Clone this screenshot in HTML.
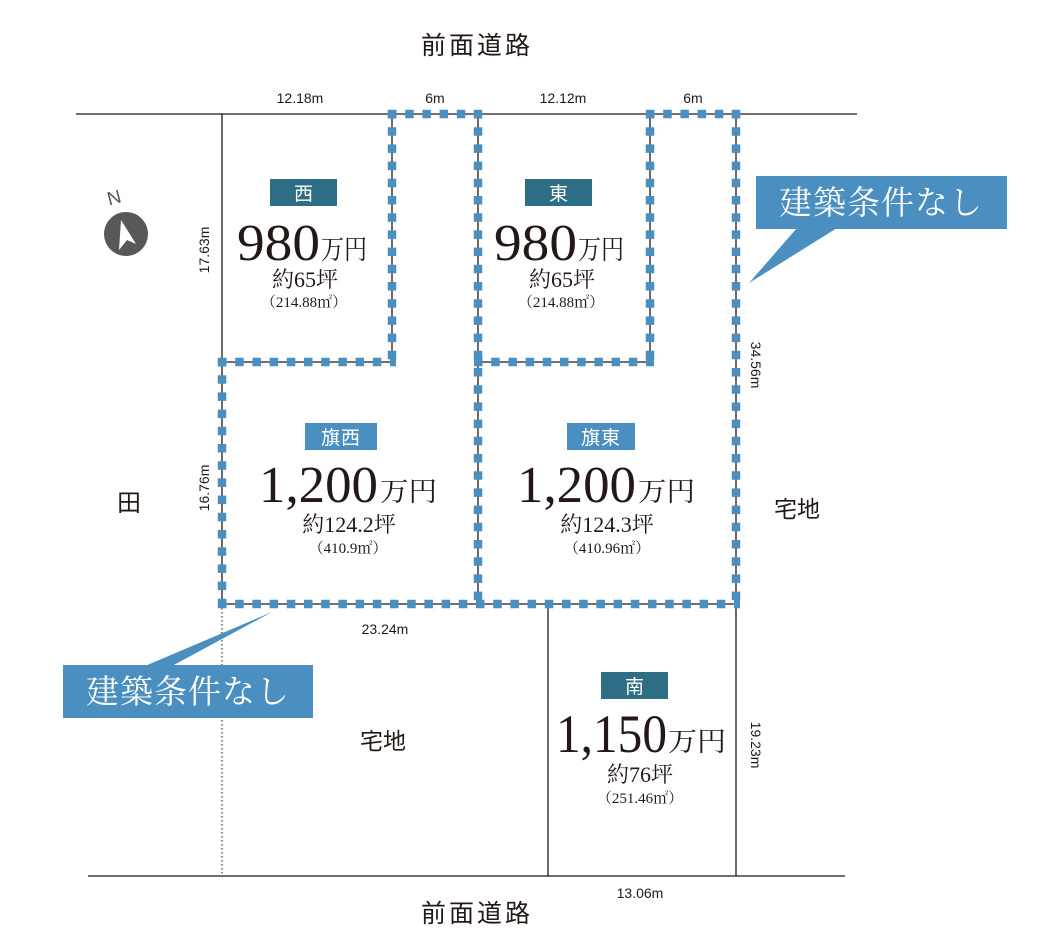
<!DOCTYPE html>
<html><head><meta charset="utf-8"><style>
html,body{margin:0;padding:0;background:#fff;}
svg{display:block}
.s{font-family:"Liberation Sans","Noto Sans CJK JP",sans-serif;fill:#231815}
.r{font-family:"Liberation Serif","Noto Serif CJK SC",serif;fill:#231815}
</style></head><body>
<svg width="1056" height="950" viewBox="0 0 1056 950" xmlns="http://www.w3.org/2000/svg">
<g stroke="#231815" stroke-width="1.3" fill="none">
<line x1="76" y1="114" x2="857" y2="114"/>
<line x1="88" y1="876" x2="845" y2="876"/>
<line x1="222" y1="114" x2="222" y2="604"/>
<line x1="392" y1="114" x2="392" y2="362"/>
<line x1="478" y1="114" x2="478" y2="604"/>
<line x1="650" y1="114" x2="650" y2="362"/>
<line x1="736" y1="114" x2="736" y2="876"/>
<line x1="548" y1="604" x2="548" y2="876"/>
<line x1="222" y1="362" x2="392" y2="362"/>
<line x1="478" y1="362" x2="650" y2="362"/>
<line x1="222" y1="604" x2="736" y2="604"/>
<line x1="222" y1="604" x2="222" y2="876" stroke-dasharray="1.5 2.5" stroke-width="1"/>
</g>
<g stroke="#4a8fc0" stroke-width="8.5" stroke-dasharray="8.5 8.7" fill="none">
<line x1="388" y1="114" x2="482" y2="114"/>
<line x1="646" y1="114" x2="740" y2="114"/>
<line x1="392" y1="110" x2="392" y2="366"/>
<line x1="478" y1="110" x2="478" y2="608"/>
<line x1="650" y1="110" x2="650" y2="366"/>
<line x1="736" y1="110" x2="736" y2="608"/>
<line x1="218" y1="362" x2="396" y2="362"/>
<line x1="474" y1="362" x2="654" y2="362"/>
<line x1="222" y1="358" x2="222" y2="608"/>
<line x1="218" y1="604" x2="740" y2="604"/>
</g>
<text class="s" x="477" y="54" font-size="25" text-anchor="middle" letter-spacing="3">前面道路</text>
<text class="s" x="477" y="922" font-size="25" text-anchor="middle" letter-spacing="3">前面道路</text>
<text class="s" x="129" y="511" font-size="24" text-anchor="middle">田</text>
<text class="s" x="797" y="517" font-size="23" text-anchor="middle">宅地</text>
<text class="s" x="383" y="749" font-size="23" text-anchor="middle">宅地</text>
<g class="s" font-size="14" text-anchor="middle">
<text x="300" y="103">12.18m</text>
<text x="435" y="103">6m</text>
<text x="563" y="103">12.12m</text>
<text x="693" y="103">6m</text>
<text x="385" y="634">23.24m</text>
<text x="640" y="898">13.06m</text>
<text transform="translate(209,250) rotate(-90)">17.63m</text>
<text transform="translate(209,488) rotate(-90)">16.76m</text>
<text transform="translate(751,365) rotate(90)">34.56m</text>
<text transform="translate(751,745) rotate(90)">19.23m</text>
</g>
<circle cx="126" cy="234" r="22" fill="#595757"/>
<polygon points="121,220 136,244 127,240 119,250" fill="#fff"/>
<text class="s" x="114" y="204" font-size="19" style="fill:#595757" text-anchor="middle" transform="rotate(-15 114 197)">N</text>
<rect x="270" y="179" width="67" height="27" fill="#2e6e85"/>
<text class="s" x="303.5" y="200" font-size="19" text-anchor="middle" style="fill:#fff">西</text>
<rect x="525" y="179" width="67" height="27" fill="#2e6e85"/>
<text class="s" x="558.5" y="200" font-size="19" text-anchor="middle" style="fill:#fff">東</text>
<rect x="305" y="423" width="72" height="27" fill="#4a8fc0"/>
<text class="s" x="341" y="444" font-size="19" text-anchor="middle" style="fill:#fff" letter-spacing="1">旗西</text>
<rect x="567" y="423" width="68" height="27" fill="#4a8fc0"/>
<text class="s" x="601" y="444" font-size="19" text-anchor="middle" style="fill:#fff" letter-spacing="1">旗東</text>
<rect x="601" y="672" width="67" height="27" fill="#2e6e85"/>
<text class="s" x="634.5" y="693" font-size="19" text-anchor="middle" style="fill:#fff">南</text>
<g class="r">
<text x="237" y="260" font-size="52" textLength="83" lengthAdjust="spacingAndGlyphs">980</text>
<text x="321" y="259" font-size="27" textLength="46" lengthAdjust="spacingAndGlyphs">万円</text>
<text x="305" y="287" font-size="22" text-anchor="middle">約65坪</text>
<text x="304" y="307" font-size="15" text-anchor="middle">（214.88㎡）</text>

<text x="494" y="260" font-size="52" textLength="83" lengthAdjust="spacingAndGlyphs">980</text>
<text x="578" y="259" font-size="27" textLength="46" lengthAdjust="spacingAndGlyphs">万円</text>
<text x="562" y="287" font-size="22" text-anchor="middle">約65坪</text>
<text x="561" y="307" font-size="15" text-anchor="middle">（214.88㎡）</text>

<text x="259" y="502" font-size="52" textLength="119" lengthAdjust="spacingAndGlyphs">1,200</text>
<text x="380" y="501" font-size="27" textLength="57" lengthAdjust="spacingAndGlyphs">万円</text>
<text x="349" y="532" font-size="22" text-anchor="middle">約124.2坪</text>
<text x="348" y="553" font-size="15" text-anchor="middle">（410.9㎡）</text>

<text x="517" y="502" font-size="52" textLength="119" lengthAdjust="spacingAndGlyphs">1,200</text>
<text x="638" y="501" font-size="27" textLength="57" lengthAdjust="spacingAndGlyphs">万円</text>
<text x="607" y="532" font-size="22" text-anchor="middle">約124.3坪</text>
<text x="607" y="553" font-size="15" text-anchor="middle">（410.96㎡）</text>

<text x="556" y="752" font-size="54" textLength="111" lengthAdjust="spacingAndGlyphs">1,150</text>
<text x="668" y="751" font-size="27" textLength="58" lengthAdjust="spacingAndGlyphs">万円</text>
<text x="640" y="782" font-size="22" text-anchor="middle">約76坪</text>
<text x="640" y="803" font-size="15" text-anchor="middle">（251.46㎡）</text>
</g>
<polygon points="797,228 837,228 749,283" fill="#4a8fc0"/>
<rect x="756" y="176" width="251" height="53" fill="#4a8fc0"/>
<text class="r" x="881" y="214" font-size="33" text-anchor="middle" style="fill:#fff" letter-spacing="1">建築条件なし</text>
<polygon points="145,666 172,666 272,612" fill="#4a8fc0"/>
<rect x="63" y="665" width="250" height="53" fill="#4a8fc0"/>
<text class="r" x="188" y="703" font-size="33" text-anchor="middle" style="fill:#fff" letter-spacing="1">建築条件なし</text>
</svg>
</body></html>
